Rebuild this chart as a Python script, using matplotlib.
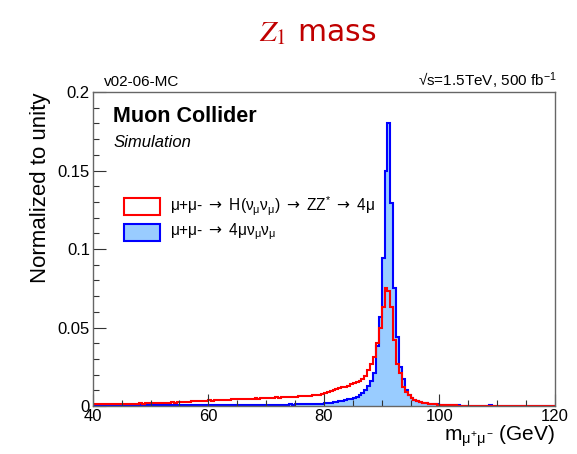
import matplotlib
matplotlib.use("Agg")
import matplotlib.pyplot as plt
from matplotlib.patches import Rectangle
from matplotlib.ticker import MultipleLocator, FormatStrFormatter
import numpy as np

plt.rcParams['font.family'] = ['Liberation Sans', 'DejaVu Sans']
plt.rcParams['mathtext.fontset'] = 'custom'
plt.rcParams['mathtext.rm'] = 'Liberation Sans'
plt.rcParams['mathtext.it'] = 'Liberation Sans'
plt.rcParams['mathtext.bf'] = 'Liberation Sans:bold'
plt.rcParams['mathtext.sf'] = 'DejaVu Sans'

# binning: 160 bins of 0.5 GeV from 40 to 120
edges = np.linspace(40, 120, 161)

# mu+mu- -> H(nu nu) -> ZZ* -> 4mu (red)
signal = [
    0.0012, 0.0011, 0.0013, 0.0012, 0.0010, 0.0013, 0.0012, 0.0014, 0.0012, 0.0013,
    0.0015, 0.0013, 0.0014, 0.0016, 0.0015, 0.0014, 0.0017, 0.0016, 0.0018, 0.0017,
    0.0019, 0.0018, 0.0020, 0.0019, 0.0021, 0.0022, 0.0020, 0.0023, 0.0022, 0.0024,
    0.0026, 0.0025, 0.0028, 0.0027, 0.0030, 0.0029, 0.0031, 0.0033, 0.0032, 0.0034,
    0.0036, 0.0034, 0.0037, 0.0039, 0.0038, 0.0040, 0.0039, 0.0041, 0.0043, 0.0042,
    0.0044, 0.0043, 0.0045, 0.0046, 0.0044, 0.0047, 0.0048, 0.0046, 0.0049, 0.0050,
    0.0052, 0.0050, 0.0053, 0.0055, 0.0053, 0.0056, 0.0058, 0.0056, 0.0059, 0.0060,
    0.0059, 0.0062, 0.0064, 0.0063, 0.0066, 0.0065, 0.0068, 0.0070, 0.0069, 0.0074,
    0.0082, 0.0088, 0.0095, 0.0100, 0.0108, 0.0112, 0.0118, 0.0122, 0.0130, 0.0138,
    0.0145, 0.0150, 0.0158, 0.0170, 0.0190, 0.0230, 0.0270, 0.0310, 0.0400, 0.0500,
    0.0630, 0.0750, 0.0730, 0.0630, 0.0420, 0.0270, 0.0210, 0.0120, 0.0090, 0.0070,
    0.0048, 0.0038, 0.0030, 0.0025, 0.0020, 0.0017, 0.0014, 0.0012, 0.0010, 0.0009,
    0.0008, 0.0007, 0.0006, 0.0005, 0.0004, 0.0004, 0.0003, 0.0003, 0.0003, 0.0002,
    0.0002, 0.0002, 0.0002, 0.0002, 0.0001, 0.0002, 0.0001, 0.0001, 0.0001, 0.0001,
    0.0001, 0.0001, 0.0001, 0.0001, 0.0001, 0.0001, 0.0001, 0.0001, 0.0001, 0.0001,
    0.0001, 0.0001, 0.0001, 0.0001, 0.0001, 0.0001, 0.0001, 0.0001, 0.0001, 0.0001,
]

# mu+mu- -> 4mu nu nu (blue)
background = [
    0.0004, 0.0005, 0.0003, 0.0004, 0.0005, 0.0004, 0.0003, 0.0005, 0.0004, 0.0004,
    0.0004, 0.0005, 0.0004, 0.0005, 0.0004, 0.0005, 0.0005, 0.0004, 0.0005, 0.0005,
    0.0005, 0.0004, 0.0005, 0.0005, 0.0006, 0.0005, 0.0005, 0.0006, 0.0005, 0.0005,
    0.0005, 0.0006, 0.0005, 0.0006, 0.0006, 0.0005, 0.0006, 0.0006, 0.0005, 0.0006,
    0.0006, 0.0006, 0.0005, 0.0006, 0.0006, 0.0007, 0.0006, 0.0006, 0.0007, 0.0006,
    0.0007, 0.0006, 0.0007, 0.0007, 0.0006, 0.0007, 0.0007, 0.0008, 0.0007, 0.0007,
    0.0008, 0.0007, 0.0008, 0.0008, 0.0009, 0.0008, 0.0009, 0.0009, 0.0010, 0.0009,
    0.0010, 0.0011, 0.0010, 0.0012, 0.0011, 0.0013, 0.0012, 0.0014, 0.0015, 0.0016,
    0.0018, 0.0020, 0.0022, 0.0025, 0.0028, 0.0030, 0.0034, 0.0038, 0.0042, 0.0046,
    0.0052, 0.0060, 0.0070, 0.0085, 0.0100, 0.0125, 0.0160, 0.0210, 0.0380, 0.0570,
    0.0940, 0.1500, 0.1800, 0.1290, 0.0750, 0.0440, 0.0250, 0.0170, 0.0100, 0.0070,
    0.0050, 0.0040, 0.0032, 0.0026, 0.0021, 0.0018, 0.0015, 0.0013, 0.0011, 0.0010,
    0.0009, 0.0008, 0.0007, 0.0006, 0.0005, 0.0004, 0.0004, 0.0003, 0.0003, 0.0003,
    0.0003, 0.0002, 0.0002, 0.0003, 0.0002, 0.0002, 0.0002, 0.0004, 0.0002, 0.0002,
    0.0002, 0.0002, 0.0002, 0.0001, 0.0003, 0.0002, 0.0001, 0.0001, 0.0001, 0.0001,
    0.0002, 0.0001, 0.0001, 0.0001, 0.0001, 0.0001, 0.0001, 0.0001, 0.0001, 0.0001,
]

fill_blue = '#99ccff'

fig = plt.figure(figsize=(5.77, 4.54), dpi=100)
ax = fig.add_axes([0.1607, 0.1057, 0.8013, 0.6916])

ax.stairs(background, edges, fill=True, color=fill_blue)
ax.stairs(background, edges, color='blue', lw=1.5)
ax.stairs(signal, edges, color='red', lw=1.5)

ax.set_xlim(40, 120)
ax.set_ylim(0, 0.2)
ax.xaxis.set_major_locator(MultipleLocator(20))
ax.xaxis.set_minor_locator(MultipleLocator(5))
ax.yaxis.set_major_locator(MultipleLocator(0.05))
ax.yaxis.set_minor_locator(MultipleLocator(0.01))
ax.yaxis.set_major_formatter(FormatStrFormatter('%g'))
ax.tick_params(which='both', direction='in', labelsize=12, color='#333333')
ax.tick_params(which='major', length=9, width=0.8, pad=2)
ax.tick_params(which='minor', length=4.5, width=0.8)
for s in ax.spines.values():
    s.set_color('#666666')
    s.set_linewidth(1.0)

ax.set_ylabel('Normalized to unity', loc='top', fontsize=16, labelpad=5)
ax.set_xlabel(r'm$_{\mu^{+}\mu^{-}}$ (GeV)', loc='right', fontsize=15, labelpad=0)

# legend drawn by hand
ax.add_patch(Rectangle((0.068, 0.608), 0.078, 0.054, transform=ax.transAxes,
                       facecolor='white', edgecolor='red', lw=1.5))
ax.add_patch(Rectangle((0.068, 0.525), 0.078, 0.054, transform=ax.transAxes,
                       facecolor=fill_blue, edgecolor='blue', lw=1.5))
arrow = r' $\mathsf{\rightarrow}$ '
ax.text(0.167, 0.637,
        r'$\mu$+$\mu$-' + arrow + r'H($\nu_{\mu}\nu_{\mu}$)' + arrow + r'ZZ$^{*}$' + arrow + r'4$\mu$',
        transform=ax.transAxes, va='center', fontsize=11.2)
ax.text(0.167, 0.554, r'$\mu$+$\mu$-' + arrow + r'4$\mu\nu_{\mu}\nu_{\mu}$',
        transform=ax.transAxes, va='center', fontsize=11.2)

ax.text(0.044, 0.905, 'Muon Collider', transform=ax.transAxes, fontsize=15.5,
        fontweight='bold', va='baseline')
ax.text(0.044, 0.825, 'Simulation', transform=ax.transAxes, fontsize=12,
        fontstyle='italic', va='baseline')

fig.text(0.180, 0.8106, 'v02-06-MC', fontsize=11, va='baseline')
fig.text(0.965, 0.8106, r'√s=1.5TeV, 500 fb$^{-1}$', fontsize=11, va='baseline', ha='right')

fig.text(0.551, 0.928, r'$Z_1$ mass', fontsize=21.5, color='#c00000', ha='center', va='center',
         family='DejaVu Sans', math_fontfamily='stix')

fig.savefig('out.png', dpi=100)
